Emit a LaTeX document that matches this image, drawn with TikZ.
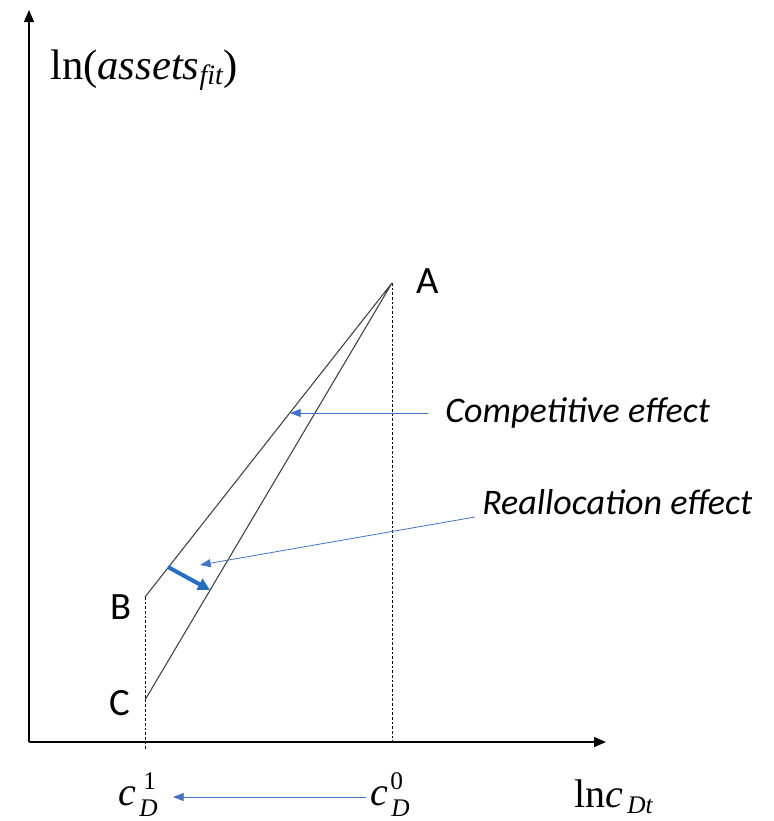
\documentclass[tikz,border=0pt]{standalone}
\usepackage{fontspec}
\setmainfont{Liberation Serif}
\newfontfamily\calfont{Carlito}
\usetikzlibrary{arrows.meta}
\definecolor{eblue}{RGB}{68,114,196}
\definecolor{tblue}{RGB}{40,110,190}
\begin{document}
\begin{tikzpicture}[x=0.75pt,y=-0.75pt,
  axis/.style={line width=1pt,-{Triangle[length=9pt,width=7.5pt]}},
  curve/.style={line width=0.8pt,draw=black!75},
  dline/.style={line width=0.7pt,dash pattern=on 2pt off 1.5pt},
  effarrow/.style={draw=eblue,line width=0.6pt,-{Triangle[length=8pt,width=6pt]}},
  thick arr/.style={draw=tblue,line width=3pt,-{Triangle[length=9pt,width=9pt]}},
  lab/.style={inner sep=0pt,font=\calfont\fontsize{29}{32}\selectfont},
  efflab/.style={inner sep=0pt,anchor=west,font=\calfont\itshape\fontsize{27}{30}\selectfont},
  mlab/.style={inner sep=0pt,anchor=base west,font=\fontsize{30}{34}\selectfont},
  slab/.style={inner sep=0pt,anchor=base west,font=\fontsize{19}{21}\selectfont}]
\useasboundingbox (0,0) rectangle (774,821);
\coordinate (O) at (29,742);
\coordinate (ytip) at (29,10);
\coordinate (xtip) at (606,742);
\coordinate (A) at (392,283);
\coordinate (B) at (145,597);
\coordinate (C) at (145,700);
\coordinate (A0) at (392,745);
\coordinate (B0) at (145,750);
\draw[axis] (O) -- (ytip);
\draw[axis] (O) -- (xtip);
\draw[dline] (A) -- (A0);
\draw[dline] (B) -- (B0);
\draw[curve] (B) -- (A) -- (C);
\node[lab] (lA) at (428,281) {A};
\node[lab] (lB) at (121,607) {B};
\node[lab] (lC) at (120,703) {C};
\node[efflab] (comp) at (445,413) {Competitive effect};
\node[efflab] (real) at (482,502) {Reallocation effect};
\coordinate (compS) at (428,413);
\coordinate (compT) at (290,413);
\coordinate (realS) at (475,517);
\coordinate (realT) at (200,565);
\draw[effarrow] (compS) -- (compT);
\draw[effarrow] (realS) -- (realT);
\coordinate (thS) at (168,567);
\coordinate (thT) at (210,590);
\draw[thick arr] (thS) -- (thT);
\node[mlab,font=\fontsize{32}{36}\selectfont] (ylab) at (50,79) {ln(\textit{assets}\raisebox{-0.3ex}{\fontsize{21}{23}\selectfont\textit{fit}})};
% c_D^1
\node[mlab] (c1) at (118,805) {\textit{c}};
\node[slab] (c1sup) at (143,789) {1};
\node[slab] (c1sub) at (139,816) {\textit{D}};
% c_D^0
\node[mlab] (c0) at (370,805) {\textit{c}};
\node[slab] (c0sup) at (390,789) {0};
\node[slab] (c0sub) at (391,816) {\textit{D}};
% ln c_Dt
\node[mlab] (lnc) at (574,807) {ln\textit{c}};
\node[slab] (lncsub) at (627,813) {\textit{Dt}};
\coordinate (cS) at (366,797);
\coordinate (cT) at (173,797);
\draw[effarrow] (cS) -- (cT);
\end{tikzpicture}
\end{document}
